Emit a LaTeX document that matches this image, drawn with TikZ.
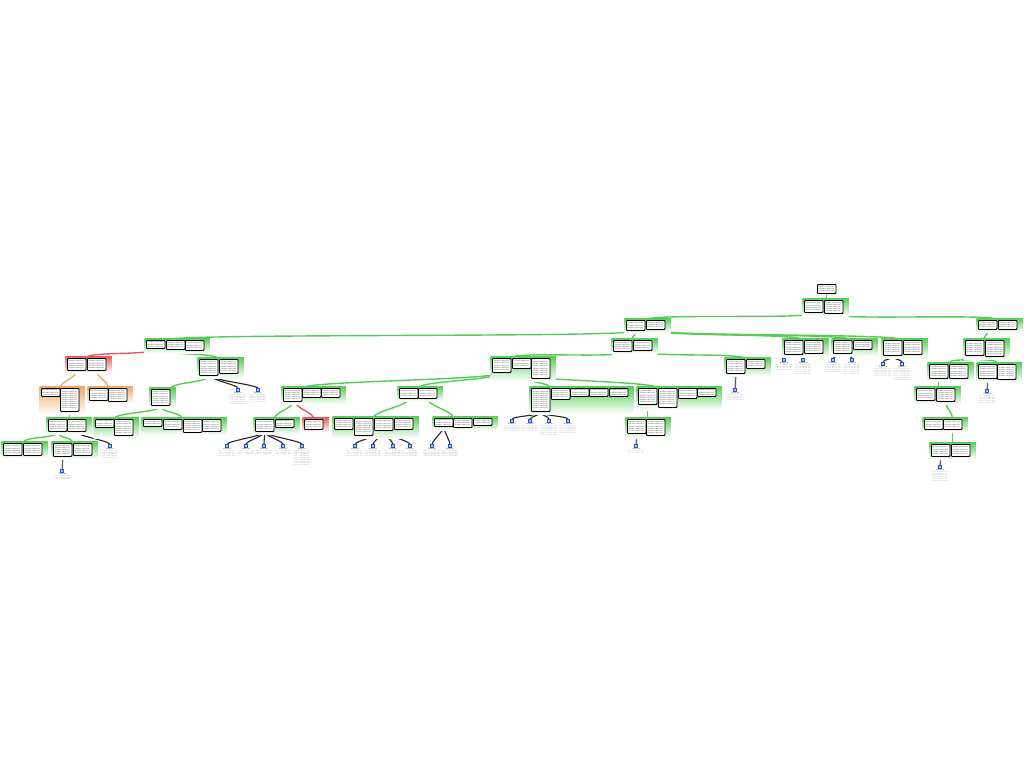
\documentclass[tikz,border=0pt]{standalone}
\usepackage{fontspec}
\usetikzlibrary{shadows}
\pgfdeclarelayer{bg}\pgfdeclarelayer{conn}\pgfdeclarelayer{pan}
\pgfsetlayers{bg,conn,pan,main}
\definecolor{grn}{RGB}{85,205,85}
\definecolor{redc}{RGB}{232,90,90}
\definecolor{orc}{RGB}{244,166,100}
\definecolor{icb}{RGB}{35,85,200}
\newcount\lnc
\newcommand\tlines[2]{\lnc=0\relax\loop\ifnum\lnc<#1\relax\advance\lnc by 1\relax #2\par\repeat}
\tikzset{
 bx/.style={draw=black, line width=0.9pt, fill=white, rounded corners=0.8pt, anchor=north west,
   text width=16.7pt, inner sep=0.9pt, font=\fontsize{1.8}{2.1}\selectfont, text=black, align=left,
   drop shadow={shadow xshift=0.5pt, shadow yshift=-0.6pt, fill=black!45}},
 ico/.style={draw=icb, fill=icb!35, line width=0.6pt, minimum width=3pt, minimum height=2.6pt, inner sep=0pt},
 ilbl/.style={font=\fontsize{1.8}{2}\selectfont\bfseries, text=black!80, inner sep=0.3pt, anchor=north},
 itxt/.style={font=\fontsize{1.4}{1.8}\selectfont, text=black!55, text width=19pt, align=center, inner sep=0.3pt, anchor=north},
 gl/.style={draw=grn, line width=1.4pt},
 rl/.style={draw=redc, line width=1.4pt},
 ol/.style={draw=orc, line width=1.4pt},
 dl/.style={draw=black!85, line width=1.1pt},
 sl/.style={draw=black!60, line width=1.4pt}
}
\newcommand\bxx[4]{\node[bx,minimum height=#4pt] (#1) at (#2,#3) {\tlines{\numexpr(#4*10-15)/25\relax}{claim text here}};}
\newcommand\pnl[5]{\begin{pgfonlayer}{pan}\shade[top color=#5, bottom color=white] (#1,#2) rectangle (#3,#4);\draw[#5, line width=0.8pt] (#1,#2) -- (#3,#2);\end{pgfonlayer}}
\newcommand\icn[4]{\node[ico] (#1) at (#2,#3) {};\node[ilbl] (#1l) at (#1.south) {Source};\node[itxt] (#1t) at (#1l.south) {\tlines{#4}{source text line here}};}
\newcommand\cnx[3]{\draw[#1] (#2) .. controls +(0,7) and +(0,-7) .. (#3);}
\newcommand\dcx[2]{\draw[dl] (#1) .. controls +(0,4) and +(0,-3.5) .. (#2);}
\begin{document}
\begin{tikzpicture}[x=1pt,y=-1pt]
\useasboundingbox (0,0) rectangle (1024,768);
\begin{pgfonlayer}{bg}\fill[white] (0,0) rectangle (1024,768);\end{pgfonlayer}
% root
\bxx{R0}{817}{284}{9}
% level 1
\bxx{A1}{804}{300}{12}\bxx{A2}{824}{300}{13}\pnl{802.5}{298}{848.5}{316}{grn}
% level 2
\bxx{B1}{626}{320}{10}\bxx{B2}{646}{320}{9}\pnl{624.5}{318}{670.5}{333}{grn}
\bxx{C1}{978}{320}{9}\bxx{C2}{998}{320}{9}\pnl{976.5}{318}{1022.5}{332}{grn}
% level 3
\bxx{D1}{146}{340}{8}\bxx{D2}{166}{340}{9}\bxx{D3}{185}{340}{10}\pnl{144.5}{338}{209.5}{353}{grn}
\bxx{E1}{613}{340}{11}\bxx{E2}{633}{340}{10}\pnl{611.5}{338}{657.5}{354}{grn}
\bxx{F1}{784}{340}{14}\bxx{F2}{804}{340}{13}\pnl{782.5}{338}{828.5}{357}{grn}
\bxx{G1}{833}{340}{13}\bxx{G2}{853}{340}{9}\pnl{831.5}{338}{877.5}{356}{grn}
\bxx{H1}{883}{340}{15}\bxx{H2}{903}{340}{14}\pnl{881.5}{338}{927.5}{358}{grn}
\bxx{I1}{965}{340}{15}\bxx{I2}{985}{340}{16}\pnl{963.5}{338}{1009.5}{359}{grn}
% level 4
\bxx{J1}{67}{358}{12}\bxx{J2}{87}{358}{12}\pnl{65.5}{356}{111.5}{373}{redc}
\bxx{K1}{199}{359}{16}\bxx{K2}{219}{359}{14}\pnl{197.5}{357}{243.5}{378}{grn}
\bxx{L1}{492}{358}{14}\bxx{L2}{512}{358}{10}\bxx{L3}{531}{358}{20}\pnl{490.5}{356}{555.5}{381}{grn}
\bxx{M1}{726}{359}{14}\bxx{M2}{746}{359}{9}\pnl{724.5}{357}{770.5}{376}{grn}
\bxx{N1}{929}{364}{14}\bxx{N2}{949}{364}{14}\pnl{927.5}{362}{973.5}{381}{grn}
\bxx{O1}{978}{364}{14}\bxx{O2}{997}{364}{15}\pnl{976.5}{362}{1021.5}{382}{grn}
% level 5
\bxx{P1}{41}{388}{8}\bxx{P2}{60}{388}{23}\pnl{39.5}{386}{84.5}{414}{orc}
\bxx{Q1}{89}{388}{12}\bxx{Q2}{108}{388}{13}\pnl{87.5}{386}{132.5}{404}{orc}
\bxx{R1}{151}{389}{16}\pnl{149.5}{387}{175.5}{408}{grn}
\bxx{S1}{283}{388}{13}\bxx{S2}{302}{388}{9}\bxx{S3}{321}{388}{9}\pnl{281.5}{386}{345.5}{404}{grn}
\bxx{T1}{399}{388}{10}\bxx{T2}{418}{388}{10}\pnl{397.5}{386}{442.5}{401}{grn}
\bxx{U1}{531}{388}{23}\bxx{U2}{551}{388}{11}\bxx{U3}{570}{388}{8}\bxx{U4}{589}{388}{8}\bxx{U5}{609}{388}{8}\pnl{529.5}{386}{633.5}{414}{grn}
\bxx{V1}{638}{388}{16}\bxx{V2}{658}{388}{19}\bxx{V3}{678}{388}{10}\bxx{V4}{697}{388}{8}\pnl{636.5}{386}{721.5}{410}{grn}
\bxx{W1}{916}{388}{12}\bxx{W2}{936}{388}{13}\pnl{914.5}{386}{960.5}{404}{grn}
% level 6
\bxx{X1}{48}{419}{12}\bxx{X2}{67}{419}{12}\pnl{46.5}{417}{91.5}{434}{grn}
\bxx{Y1}{95}{419}{8}\bxx{Y2}{114}{419}{16}\pnl{93.5}{417}{138.5}{438}{grn}
\bxx{Z1}{143}{419}{7}\bxx{Z2}{163}{419}{10}\bxx{Z3}{183}{419}{13}\bxx{Z4}{202}{419}{12}\pnl{141.5}{417}{226.5}{435}{grn}
\bxx{AA1}{255}{419}{12}\bxx{AA2}{275}{419}{8}\pnl{253.5}{417}{299.5}{434}{grn}
\bxx{AB1}{304}{419}{10}\pnl{302.5}{417}{328.5}{432}{redc}
\bxx{AC1}{334}{418}{11}\bxx{AC2}{354}{418}{17}\bxx{AC3}{374}{418}{12}\bxx{AC4}{394}{418}{11}\pnl{332.5}{416}{418.5}{438}{grn}
\bxx{AD1}{434}{418}{8}\bxx{AD2}{453}{418}{9}\bxx{AD3}{473}{418}{7}\pnl{432.5}{416}{497.5}{430}{grn}
\bxx{AE1}{627}{419}{14}\bxx{AE2}{646}{419}{16}\pnl{625.5}{417}{670.5}{438}{grn}
\bxx{AF1}{924}{419}{10}\bxx{AF2}{943}{419}{10}\pnl{922.5}{417}{967.5}{432}{grn}
% level 7
\bxx{AG1}{3}{443}{12}\bxx{AG2}{23}{443}{12}\pnl{1.5}{441}{47.5}{458}{grn}
\bxx{AH1}{53}{443}{13}\bxx{AH2}{73}{443}{12}\pnl{51.5}{441}{97.5}{459}{grn}
\bxx{AI1}{931}{444}{12}\bxx{AI2}{951}{444}{12}\pnl{929.5}{442}{975.5}{459}{grn}
% sources
\icn{i1}{784}{360}{4}\icn{i2}{803}{360}{6}
\icn{i3}{833}{360}{5}\icn{i4}{852}{360}{6}
\icn{i5}{883}{364}{5}\icn{i6}{902}{364}{7}
\icn{i7}{238}{390}{6}\icn{i8}{258}{390}{5}
\icn{i9}{735.25}{390}{4}
\icn{i10}{987.25}{391}{5}
\icn{i11}{512}{421}{4}\icn{i12}{530}{421}{4}\icn{i13}{549}{421}{6}\icn{i14}{568}{421}{5}
\icn{i15}{110}{446}{5}
\icn{i16}{227}{446}{4}\icn{i17}{246}{446}{3}\icn{i18}{264}{446}{3}\icn{i19}{283}{446}{3}\icn{i20}{302}{446}{9}
\icn{i21}{355}{446}{4}\icn{i22}{373}{446}{4}\icn{i23}{393}{446}{4}\icn{i24}{410}{446}{4}
\icn{i25}{432}{446}{4}\icn{i26}{450}{446}{4}
\icn{i27}{636.25}{446}{2}
\icn{i28}{62.25}{471}{3}
\icn{i29}{940.25}{467}{6}
% connectors
\begin{pgfonlayer}{conn}
\draw[gl] (R0.south) -- (R0.south |- A2.north);
\cnx{gl}{A1.south}{B1.north east}
\cnx{gl}{A2.south}{C1.north east}
\cnx{gl}{B1.south}{D1.north east}
\cnx{gl}{B1.south}{E1.north east}
\cnx{gl}{B2.south}{F1.north east}
\cnx{gl}{B2.south}{G1.north east}
\cnx{gl}{B2.south}{H1.north east}
\cnx{gl}{C1.south}{I1.north east}
\cnx{rl}{[xshift=-2pt]D1.south}{J1.north east}
\cnx{gl}{[xshift=2pt]D1.south}{K1.north east}
\cnx{gl}{E1.south}{L1.north east}
\cnx{gl}{E2.south}{M1.north east}
\cnx{gl}{I1.south}{N1.north east}
\cnx{gl}{I1.south}{O1.north east}
\cnx{ol}{J1.south}{P1.north east}
\cnx{ol}{J2.south}{Q1.north east}
\cnx{gl}{K1.south}{R1.north east}
\cnx{gl}{[xshift=-2pt]L1.south}{S1.north east}
\cnx{gl}{[xshift=-1pt]L1.south}{T1.north east}
\cnx{gl}{[xshift=2pt]L1.south}{U1.north east}
\cnx{gl}{[xshift=3pt]L1.south}{V1.north east}
\draw[gl] (N1.south) -- (N1.south |- W2.north);
\draw[gl] (P2.south) -- (P2.south |- X2.north);
\cnx{gl}{R1.south}{Y1.north east}
\cnx{gl}{R1.south}{Z2.north east}
\cnx{gl}{S1.south}{AA1.north east}
\cnx{rl}{[xshift=3pt]S1.south}{AB1.north}
\cnx{gl}{T1.south}{AC2.north east}
\cnx{gl}{T2.south}{AD1.north east}
\draw[gl] (V1.south) -- (V1.south |- AE2.north);
\cnx{gl}{W2.south}{AF2.north}
\draw[gl] (AF2.south) -- (AF2.south |- AI2.north);
\cnx{gl}{X1.south}{AG2.north west}
\cnx{gl}{X1.south}{AH1.north east}
% to sources
\dcx{F1.south}{i1.north}\dcx{F1.south}{i2.north}
\dcx{G1.south}{i3.north}\dcx{G1.south}{i4.north}
\dcx{H1.south}{i5.north}\dcx{H1.south}{i6.north}
\dcx{[xshift=2pt]K1.south}{i7.north}\dcx{[xshift=2pt]K1.south}{i8.north}
\dcx{U1.south}{i11.north}\dcx{U1.south}{i12.north}\dcx{U1.south}{i13.north}\dcx{U1.south}{i14.north}
\dcx{X2.south}{i15.north}
\dcx{AA1.south}{i16.north}\dcx{AA1.south}{i17.north}\dcx{AA1.south}{i18.north}\dcx{AA1.south}{i19.north}\dcx{AA1.south}{i20.north}
\dcx{AC3.south}{i21.north}\dcx{AC3.south}{i22.north}\dcx{AC3.south}{i23.north}\dcx{AC3.south}{i24.north}
\dcx{AD1.south}{i25.north}\dcx{AD1.south}{i26.north}
\draw[sl] (M1.south) -- (i9.north);
\draw[sl] (O1.south) -- (i10.north);
\draw[sl] (AE1.south) -- (i27.north);
\draw[sl] (AH1.south) -- (i28.north);
\draw[sl] (AI1.south) -- (i29.north);
\end{pgfonlayer}
\end{tikzpicture}
\end{document}
